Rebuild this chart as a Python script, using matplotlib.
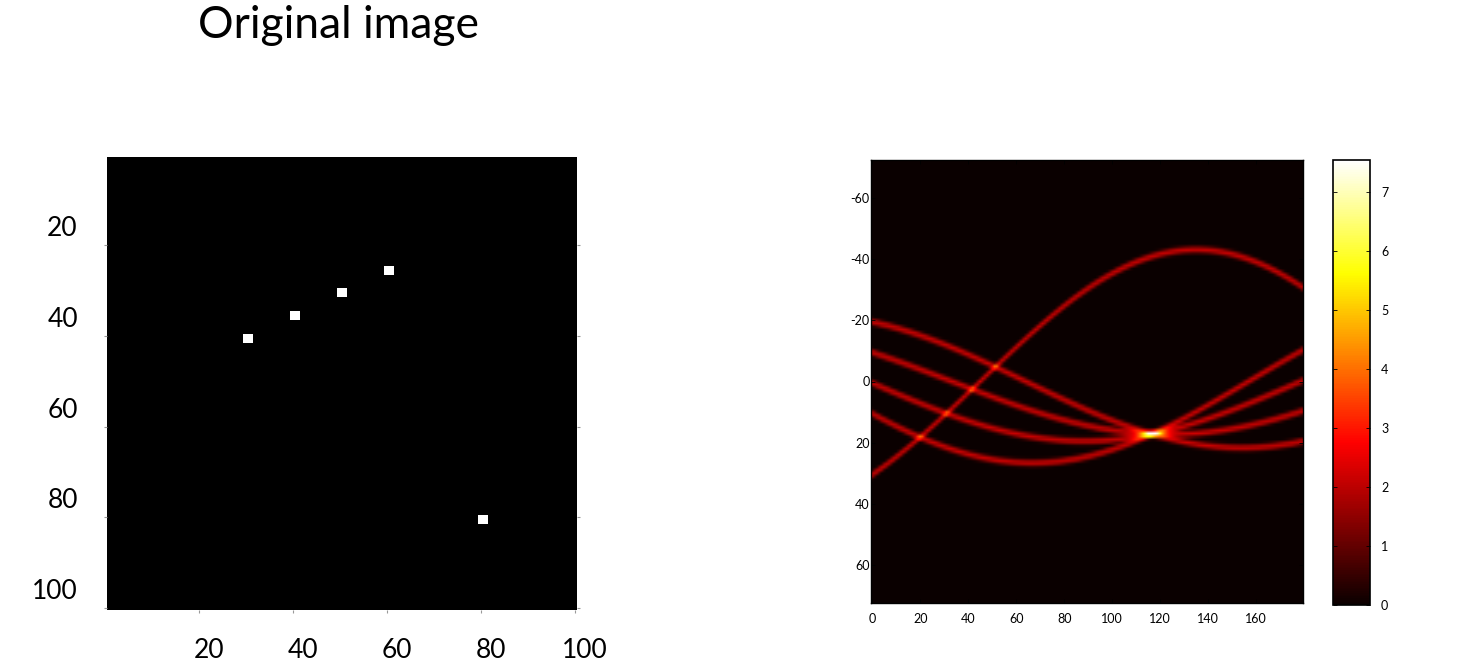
import numpy as np
import matplotlib
matplotlib.use("Agg")
import matplotlib.pyplot as plt
from matplotlib.transforms import ScaledTranslation

plt.rcParams['font.family'] = ['Lato', 'DejaVu Sans']
plt.rcParams['axes.unicode_minus'] = False

# Test image: 100x100 black, a few 2x2 white blocks (1-based upper-left pixel)
IMG_SIZE = 100
BLOCK_ROWS = [40, 35, 30, 25, 80]
BLOCK_COLS = [30, 40, 50, 60, 80]
BLOCK_SIZE = 2

# projection angles (deg)
THETA = np.arange(0, 180)

LEFT_TICKS = [20, 40, 60, 80, 100]
RIGHT_XTICKS = [0, 20, 40, 60, 80, 100, 120, 140, 160]
RIGHT_YTICKS = [-60, -40, -20, 0, 20, 40, 60]
CBAR_TICKS = [0, 1, 2, 3, 4, 5, 6, 7]
CLIM = (0, 7.55)
TITLE = "Original image"


def make_image():
    img = np.zeros((IMG_SIZE, IMG_SIZE))
    for r, c in zip(BLOCK_ROWS, BLOCK_COLS):
        img[r - 1:r - 1 + BLOCK_SIZE, c - 1:c - 1 + BLOCK_SIZE] = 1.0
    return img


def radon(img, theta):
    # same scheme as MATLAB radon: 4 sub-pixels per pixel, linear binning
    n = img.shape[0]
    origin = (n - 1) // 2
    r_last = int(np.ceil(np.hypot(n - 1 - origin, n - 1 - origin))) + 1
    xp = np.arange(-r_last, r_last + 1)
    out = np.zeros((len(xp), len(theta)))
    rows, cols = np.nonzero(img)
    vals = img[rows, cols]
    x = cols - origin
    y = origin - rows
    for j, t in enumerate(np.deg2rad(theta)):
        c, s = np.cos(t), np.sin(t)
        for dx in (-0.25, 0.25):
            for dy in (-0.25, 0.25):
                r = (x + dx) * c + (y + dy) * s - xp[0]
                lo = np.floor(r).astype(int)
                f = r - lo
                np.add.at(out[:, j], lo, 0.25 * vals * (1 - f))
                np.add.at(out[:, j], lo + 1, 0.25 * vals * f)
    return out, xp


img = make_image()
R, xp = radon(img, THETA)

fig = plt.figure(figsize=(14.74, 6.65), dpi=100)

# --- left: original image ---
ax1 = fig.add_axes([107 / 1474, 1 - 610 / 665, 470 / 1474, 453 / 665])
ax1.imshow(img, cmap='gray', vmin=0, vmax=1, interpolation='nearest',
           extent=[0.5, IMG_SIZE + 0.5, IMG_SIZE + 0.5, 0.5], aspect='auto')
ax1.set_xticks(LEFT_TICKS)
ax1.set_yticks(LEFT_TICKS)
ax1.set_xticklabels([str(t) for t in LEFT_TICKS])
ax1.set_yticklabels([str(t) for t in LEFT_TICKS])
ax1.tick_params(axis='both', direction='out', length=2, width=0.8, color='#999999',
                labelsize=19, right=True, top=False)
ax1.tick_params(axis='x', pad=18)
ax1.tick_params(axis='y', pad=19)
for sp in ax1.spines.values():
    sp.set_visible(False)
# labels in the source sit a bit off their ticks
for lab in ax1.get_xticklabels():
    lab.set_transform(lab.get_transform() + ScaledTranslation(0.10, 0, fig.dpi_scale_trans))
for lab in ax1.get_yticklabels():
    lab.set_transform(lab.get_transform() + ScaledTranslation(0, 0.19, fig.dpi_scale_trans))

fig.text(338 / 1474, 1 - 26 / 665, TITLE, ha='center', va='center', fontsize=32)

# --- right: radon transform ---
ax2 = fig.add_axes([871 / 1474, 1 - 603 / 665, 432 / 1474, 443 / 665])
im = ax2.imshow(R, cmap='hot', interpolation='bilinear', aspect='auto',
                extent=[THETA[0] - 0.5, THETA[-1] + 0.5, xp[-1] + 0.5, xp[0] - 0.5],
                vmin=CLIM[0], vmax=CLIM[1])
ax2.set_xticks(RIGHT_XTICKS)
ax2.set_yticks(RIGHT_YTICKS)
ax2.tick_params(axis='both', direction='in', length=3, width=0.6, labelsize=9,
                top=True, right=True)
ax2.tick_params(axis='x', pad=7)
ax2.tick_params(axis='y', pad=1)
for sp in ax2.spines.values():
    sp.set_linewidth(1.0)

cax = fig.add_axes([1333 / 1474, 1 - 605 / 665, 37 / 1474, 445 / 665])
cb = fig.colorbar(im, cax=cax, ticks=CBAR_TICKS)
cb.ax.tick_params(direction='in', length=3, width=0.6, labelsize=9, pad=8, left=True)
cb.outline.set_linewidth(1.2)
cax.spines['right'].set_linewidth(2.5)

fig.savefig("out.png", dpi=100)
